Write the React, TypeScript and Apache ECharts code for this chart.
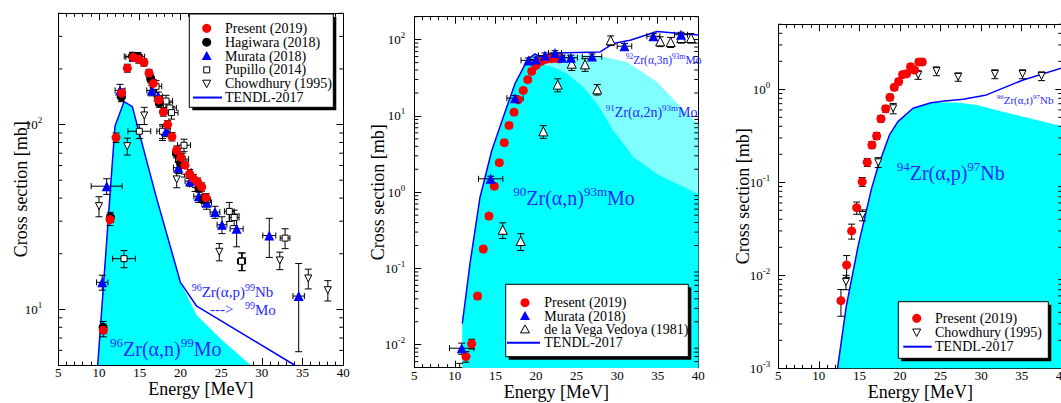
import React, { useEffect, useRef } from 'react';
import * as echarts from 'echarts';

const FONT = 'Liberation Serif';
const BLUE = '#0000ff';
const TEXT_BLUE = '#2828ff';
const CYAN = '#00ffff';
const LIGHT_CYAN = '#80ffff';
const RED = '#ff0000';

// Energy axis
const energyMin = 5;
const energyMax = 40;
const energyStep = 5;

// ---------- Panel 1 : 96Zr -> 99Mo ; points [E MeV, sigma mb, dE, dSigma]
const p1Present = [
  [10.53, 7.7, 0, 0.6], [11.35, 30.6, 0, 2.2], [12.09, 85, 0, 5], [12.78, 148, 0, 8],
  [13.48, 202, 0, 10], [14.21, 231, 0, 11], [14.87, 226, 0, 11], [15.52, 217, 0, 10],
  [16.14, 190, 0, 9], [16.67, 167, 0, 8], [17.33, 136, 0, 7], [17.9, 117, 0, 6],
  [18.43, 100, 0, 5], [18.96, 86, 0, 4.5], [19.54, 72.6, 0, 4], [20.07, 66.4, 0, 3.5],
  [20.56, 60.3, 0, 3.2], [21.13, 54.1, 0, 3], [21.58, 51, 0, 2.7], [22.12, 48.8, 0, 2.6],
  [22.61, 46, 0, 2.4], [23.14, 40.2, 0, 2.1],
];
const p1Hagiwara = [
  [10.5, 8.0, 0.25, 0.6], [11.4, 31.5, 0.25, 2], [12.75, 141, 0.3, 8], [14.1, 234, 1.0, 12],
  [14.8, 233, 0.8, 12], [16.35, 177, 0.4, 9], [17.4, 131, 0.4, 7], [19.5, 70, 0.4, 4],
  [20.0, 62, 0.4, 3.5], [22.3, 45.5, 0.4, 2.5], [22.9, 39.6, 0.4, 2.2],
];
const p1Murata = [
  [10.4, 14.0, 0.7, 1.3], [10.94, 46.4, 1.9, 4.5], [12.58, 153, 0.6, 12], [14.3, 232, 1.0, 12],
  [16.47, 153, 0.6, 10], [17.28, 142, 0.5, 8], [18.23, 92, 0.5, 6], [19.74, 58.4, 0.6, 4],
  [21.17, 49.4, 0.6, 3], [22.24, 40.9, 0.6, 3], [23.22, 37.8, 0.6, 3], [24.24, 33.6, 0.6, 2.5],
  [25.1, 28.7, 0.6, 3], [26.9, 27.3, 0.8, 5.5], [30.91, 25.1, 0.8, 6], [34.52, 11.8, 0.7, 5.9],
];
const p1Pupillo = [
  [13.07, 18.8, 1.4, 2], [14.95, 92, 1.4, 8], [17.0, 161, 0.7, 12], [17.8, 92, 0.7, 8],
  [18.23, 134, 0.8, 10], [18.7, 123, 0.8, 9], [18.9, 116, 0.8, 9], [20.2, 65, 0.8, 5],
  [20.44, 77.3, 0.8, 6], [20.5, 56, 0.8, 4], [21.8, 47.4, 0.7, 4], [23.0, 39, 0.7, 3],
  [26.0, 33.9, 0.6, 4], [26.6, 31.4, 0.6, 3], [27.5, 18.2, 0.5, 2], [32.85, 24.3, 0.6, 3],
];
const p1Chowdhury = [
  [10.0, 36.2, 0, 4.5], [13.47, 76.4, 0, 8], [15.56, 112, 0, 12], [17.8, 90, 0, 8],
  [19.54, 50.5, 0, 5], [24.77, 20.5, 0, 2.2], [27.6, 18.2, 0, 2], [32.2, 18.4, 0, 2],
  [35.7, 14.7, 0, 1.8], [38.1, 12.7, 0, 1.6],
];
// TENDL-2017 total (α,n)+(α,p)->99Mo and (α,n) only
const p1Tendl = [
  [9.6, 2.5], [9.84, 5], [11.96, 98], [13.07, 133], [14.09, 125], [17, 41], [20, 14],
  [22, 10.4], [34, 5], [36, 4.3],
];
const p1FillAN = [
  [9.6, 2.5], [9.84, 5], [11.96, 98], [13.07, 133], [14.09, 125], [17, 41], [20, 14],
  [22, 9.3], [25, 6.9], [28.6, 5], [30, 4.4],
];

// ---------- Panel 2 : natZr -> 93mMo
const p2Present = [
  [11.37, 0.007, 0, 0.0011], [12.07, 0.0103, 0, 0.0015], [12.8, 0.0434, 0, 0.004],
  [13.5, 0.18, 0, 0.015], [14.2, 0.486, 0, 0.04], [14.86, 1.2, 0, 0.1], [15.48, 2.44, 0, 0.2],
  [16.09, 4.46, 0, 0.35], [16.67, 7.5, 0, 0.6], [17.29, 11.2, 0, 0.9], [17.82, 16.3, 0, 1.2],
  [18.43, 21.6, 0, 1.6], [18.98, 29.9, 0, 2.2], [19.47, 38.4, 0, 2.8], [20.0, 46, 0, 3.3],
  [20.62, 51.9, 0, 3.7], [21.2, 55.2, 0, 4], [21.85, 56.3, 0, 4], [22.3, 57, 0, 4],
  [22.9, 56, 0, 4],
];
const p2Murata = [
  [10.84, 0.009, 1.5, 0.0015], [14.41, 1.5, 1.5, 0.12], [17.41, 17.1, 1.0, 1.4],
  [19.05, 53.5, 0.9, 4], [20.0, 55, 0.8, 4], [21.1, 62, 0.8, 5], [22.34, 66.7, 0.8, 5],
  [23.2, 58, 0.8, 4.5], [24.3, 58, 0.8, 4.5], [26.9, 60, 1.2, 5], [30.9, 82, 0.9, 7],
  [34.46, 111, 0.8, 9], [37.87, 116, 0.8, 9],
];
const p2Vega = [
  [10.6, 0.0045, 0, 0.0012], [15.9, 0.322, 0, 0.075], [18.11, 0.229, 0, 0.057],
  [20.9, 6.27, 0, 1.2], [22.67, 25.7, 0, 5], [24.4, 48.4, 0, 9], [26.04, 47.4, 0, 9],
  [27.55, 22.3, 0, 3.5], [29.2, 98, 0, 14], [35.3, 95, 0, 14], [36.6, 93, 0, 14],
  [37.9, 105, 0, 15], [39.1, 105, 0, 15],
];
const p2Tendl = [
  [10.92, 0.019], [11.86, 0.115], [13.1, 0.86], [14.54, 3.5], [15.97, 9.7], [17.41, 26.5],
  [18.98, 55], [19.88, 65], [20.5, 60], [22.34, 67], [27.9, 69], [29.5, 89], [31.6, 98],
  [34.9, 128], [40, 115],
];
// 90Zr(α,n) + 91Zr(α,2n) boundary
const p2FillAN2N = [
  [10.92, 0.019], [11.86, 0.115], [13.1, 0.86], [14.54, 3.5], [15.97, 9.7], [17.41, 26.5],
  [18.98, 55], [19.88, 64], [20.5, 59], [22.34, 65], [24, 64], [26, 63], [27.9, 61],
  [31.2, 51], [34.9, 28], [37.3, 15], [40, 7.7],
];
// 90Zr(α,n) boundary
const p2FillAN = [
  [10.92, 0.019], [11.86, 0.115], [13.1, 0.86], [14.54, 3.5], [15.97, 9.7], [17.41, 26.5],
  [18.98, 54], [19.6, 52], [20.5, 48], [22, 44], [23.8, 36], [25.8, 24], [27.5, 14.5],
  [29.5, 6.5], [32, 2.9], [35, 1.7], [40, 0.95],
];

// ---------- Panel 3 : 94Zr(α,p)97Nb
const p3Present = [
  [12.72, 0.00533, 0, 0.0017], [13.42, 0.0129, 0, 0.0034], [14.04, 0.03, 0, 0.0055],
  [14.66, 0.0533, 0, 0.008], [15.34, 0.1015, 0, 0.011], [15.96, 0.164, 0, 0.016],
  [16.54, 0.252, 0, 0.022], [17.12, 0.315, 0, 0.027], [17.65, 0.483, 0, 0.04],
  [18.23, 0.618, 0, 0.05], [18.76, 0.82, 0, 0.065], [19.29, 1.05, 0, 0.08],
  [19.83, 1.21, 0, 0.09], [20.32, 1.44, 0, 0.1], [20.81, 1.47, 0, 0.1], [21.3, 1.75, 0, 0.12],
  [21.8, 1.61, 0, 0.11], [22.33, 1.97, 0, 0.14], [22.74, 1.97, 0, 0.14],
];
const p3Chowdhury = [
  [13.34, 0.0085, 0, 0.0015], [15.39, 0.0445, 0, 0.006], [17.32, 0.164, 0, 0.02],
  [19.16, 0.625, 0, 0.08], [22.24, 1.43, 0, 0.15], [24.5, 1.57, 0, 0.17], [27.17, 1.36, 0, 0.14],
  [31.69, 1.46, 0, 0.16], [35.1, 1.46, 0, 0.16], [37.44, 1.39, 0, 0.15],
];
const p3Tendl = [
  [12.1, 0.0007], [12.3, 0.001], [13.37, 0.0046], [14.82, 0.0203], [16.45, 0.083],
  [17.28, 0.147], [18.7, 0.323], [19.74, 0.449], [21.6, 0.625], [23.84, 0.718], [25.5, 0.75],
  [27.8, 0.78], [30.66, 0.87], [35.17, 1.26], [40, 1.7],
];
const p3FillAP = [
  [12.1, 0.0007], [12.3, 0.001], [13.37, 0.0046], [14.82, 0.0203], [16.45, 0.083],
  [17.28, 0.147], [18.7, 0.323], [19.74, 0.449], [21.6, 0.625], [23.84, 0.718], [25, 0.72],
  [27, 0.72], [29.5, 0.68], [33.5, 0.55], [40, 0.4],
];

// y-axis ranges and minor tick positions (log axes)
const yRange1 = [5, 400];
const yRange2 = [0.005, 200];
const yRange3 = [0.001, 5];
const yMinor1 = [6, 7, 8, 9, 20, 30, 40, 50, 60, 70, 80, 90, 200, 300, 400];
const yMinor2 = [
  0.006, 0.007, 0.008, 0.009, 0.02, 0.03, 0.04, 0.05, 0.06, 0.07, 0.08, 0.09,
  0.2, 0.3, 0.4, 0.5, 0.6, 0.7, 0.8, 0.9, 2, 3, 4, 5, 6, 7, 8, 9,
  20, 30, 40, 50, 60, 70, 80, 90, 200,
];
const yMinor3 = [
  0.002, 0.003, 0.004, 0.005, 0.006, 0.007, 0.008, 0.009, 0.02, 0.03, 0.04, 0.05, 0.06,
  0.07, 0.08, 0.09, 0.2, 0.3, 0.4, 0.5, 0.6, 0.7, 0.8, 0.9, 2, 3, 4, 5,
];

const grids = [
  { left: 58.3, top: 13.3, width: 285, height: 351.7 },
  { left: 414.3, top: 16.7, width: 284, height: 351 },
  { left: 778.3, top: 24.3, width: 284, height: 344 },
];

function logLabel(v: number) {
  const l = Math.log10(v);
  const e = Math.round(l);
  if (Math.abs(l - e) > 1e-6) return '';
  return '10{s|' + e + '}';
}

function makeXAxes(gi: number) {
  const base: any = {
    type: 'value', gridIndex: gi, min: energyMin, max: energyMax, interval: energyStep,
    splitLine: { show: false },
    axisLine: { show: true, onZero: false, lineStyle: { color: '#000', width: 1 } },
    axisTick: { show: true, inside: true, length: 7, lineStyle: { color: '#000', width: 1 } },
    minorTick: { show: true, splitNumber: 5, length: 3.5, lineStyle: { color: '#000', width: 1 } },
  };
  return [
    {
      ...base, position: 'bottom',
      axisLabel: { show: true, margin: 1, fontFamily: FONT, fontSize: 13, fontWeight: 'normal', color: '#000' },
      name: 'Energy [MeV]', nameLocation: 'middle', nameGap: 15, nameMoveOverlap: false,
      nameTextStyle: { fontFamily: FONT, fontSize: 18, fontWeight: 'normal', color: '#000' },
    },
    { ...base, position: 'top', axisLabel: { show: false } },
  ];
}

function makeYAxes(gi: number, range: number[], margin: number, gap: number) {
  const base: any = {
    type: 'log', logBase: 10, gridIndex: gi, min: range[0], max: range[1],
    splitLine: { show: false },
    axisLine: { show: true, onZero: false, lineStyle: { color: '#000', width: 1 } },
    axisTick: { show: true, inside: true, length: 7, lineStyle: { color: '#000', width: 1 } },
  };
  return [
    {
      ...base, position: 'left',
      axisLabel: {
        show: true, margin, fontFamily: FONT, fontSize: 13, fontWeight: 'normal', color: '#000', lineHeight: 18,
        formatter: logLabel,
        rich: { s: { fontFamily: FONT, fontSize: 9, color: '#000', verticalAlign: 'top', lineHeight: 9 } },
      },
      name: 'Cross section [mb]', nameLocation: 'middle', nameGap: gap, nameMoveOverlap: false,
      nameTextStyle: { fontFamily: FONT, fontSize: 18, fontWeight: 'normal', color: '#000' },
    },
    { ...base, position: 'right', axisLabel: { show: false } },
  ];
}

function errorBarRender(params: any, api: any) {
  const x = api.value(0), y = api.value(1), dx = api.value(2), dy = api.value(3);
  const st = { stroke: '#000', lineWidth: 1 };
  const kids: any[] = [];
  if (dy > 0) {
    const t = api.coord([x, y + dy]);
    const b = api.coord([x, Math.max(y - dy, y * 0.02)]);
    kids.push({ type: 'line', shape: { x1: t[0], y1: t[1], x2: b[0], y2: b[1] }, style: st });
    kids.push({ type: 'line', shape: { x1: t[0] - 3.5, y1: t[1], x2: t[0] + 3.5, y2: t[1] }, style: st });
    kids.push({ type: 'line', shape: { x1: b[0] - 3.5, y1: b[1], x2: b[0] + 3.5, y2: b[1] }, style: st });
  }
  if (dx > 0) {
    const l = api.coord([x - dx, y]);
    const r = api.coord([x + dx, y]);
    kids.push({ type: 'line', shape: { x1: l[0], y1: l[1], x2: r[0], y2: r[1] }, style: st });
    kids.push({ type: 'line', shape: { x1: l[0], y1: l[1] - 3, x2: l[0], y2: l[1] + 3 }, style: st });
    kids.push({ type: 'line', shape: { x1: r[0], y1: r[1] - 3, x2: r[0], y2: r[1] + 3 }, style: st });
  }
  return { type: 'group', children: kids };
}

function minorTickRender(params: any, api: any) {
  const cs = params.coordSys;
  const p = api.coord([energyMin, api.value(1)]);
  const y = p[1];
  const st = { stroke: '#000', lineWidth: 1 };
  return {
    type: 'group',
    children: [
      { type: 'line', shape: { x1: cs.x, y1: y, x2: cs.x + 4, y2: y }, style: st },
      { type: 'line', shape: { x1: cs.x + cs.width - 4, y1: y, x2: cs.x + cs.width, y2: y }, style: st },
    ],
  };
}

function errSeries(gi: number, data: number[][]) {
  return {
    type: 'custom', xAxisIndex: gi * 2, yAxisIndex: gi * 2, data, renderItem: errorBarRender,
    encode: { x: 0, y: 1 }, clip: true, silent: true, z: 4,
  };
}

function pts(gi: number, name: string, data: number[][], symbol: string, size: number, style: any, rotate = 0, z = 5) {
  return {
    type: 'scatter', name, xAxisIndex: gi * 2, yAxisIndex: gi * 2,
    data: data.map((d) => [d[0], d[1]]), symbol, symbolSize: size, symbolRotate: rotate,
    itemStyle: { opacity: 1, ...style }, clip: true, silent: true, z,
  };
}

function lineSeries(gi: number, name: string, data: number[][]) {
  return {
    type: 'line', name, xAxisIndex: gi * 2, yAxisIndex: gi * 2, data, symbol: 'none',
    showSymbol: false, lineStyle: { color: BLUE, width: 1.5 }, clip: true, silent: true, z: 3,
  };
}

function fillSeries(gi: number, name: string, data: number[][], color: string) {
  return {
    type: 'line', name, xAxisIndex: gi * 2, yAxisIndex: gi * 2, data, symbol: 'none',
    showSymbol: false, lineStyle: { width: 0, opacity: 0 },
    areaStyle: { color, opacity: 1, origin: 1e-6 }, clip: true, silent: true, z: 1,
  };
}

function minorSeries(gi: number, ticks: number[]) {
  return {
    type: 'custom', xAxisIndex: gi * 2, yAxisIndex: gi * 2,
    data: ticks.map((v) => [energyMin, v]), renderItem: minorTickRender,
    encode: { x: 0, y: 1 }, silent: true, z: 6,
  };
}

// ---------- legends (drawn with graphic elements)
const legend1 = [
  ['Present (2019)', 'red'], ['Hagiwara (2018)', 'black'], ['Murata (2018)', 'blueTri'],
  ['Pupillo (2014)', 'openSq'], ['Chowdhury (1995)', 'openTriDown'], ['TENDL-2017', 'line'],
];
const legend2 = [
  ['Present (2019)', 'red'], ['Murata (2018)', 'blueTri'], ['de la Vega Vedoya (1981)', 'openTriUp'],
  ['TENDL-2017', 'line'],
];
const legend3 = [['Present (2019)', 'red'], ['Chowdhury (1995)', 'openTriDown'], ['TENDL-2017', 'line']];

function marker(kind: string, cx: number, cy: number, lx1: number, lx2: number) {
  const z = 102;
  switch (kind) {
    case 'red':
      return { type: 'circle', z, shape: { cx, cy, r: 4.5 }, style: { fill: RED } };
    case 'black':
      return { type: 'circle', z, shape: { cx, cy, r: 4.5 }, style: { fill: '#000' } };
    case 'blueTri':
      return { type: 'polygon', z, shape: { points: [[cx, cy - 5], [cx - 5, cy + 4], [cx + 5, cy + 4]] }, style: { fill: BLUE } };
    case 'openTriUp':
      return { type: 'polygon', z, shape: { points: [[cx, cy - 4.5], [cx - 4.5, cy + 3.5], [cx + 4.5, cy + 3.5]] }, style: { fill: '#fff', stroke: '#000', lineWidth: 1 } };
    case 'openSq':
      return { type: 'rect', z, shape: { x: cx - 3, y: cy - 3, width: 6, height: 6 }, style: { fill: '#fff', stroke: '#000', lineWidth: 1 } };
    case 'openTriDown':
      return { type: 'polygon', z, shape: { points: [[cx - 4, cy - 3.5], [cx + 4, cy - 3.5], [cx, cy + 4]] }, style: { fill: '#fff', stroke: '#000', lineWidth: 1 } };
    default:
      return { type: 'line', z, shape: { x1: lx1, y1: cy, x2: lx2, y2: cy }, style: { stroke: BLUE, lineWidth: 2 } };
  }
}

function makeLegend(box: number[], entries: string[][], mx: number, tx: number, y0: number, dy: number, lx1: number, lx2: number) {
  const [x, y, w, h] = box;
  const els: any[] = [
    { type: 'rect', z: 100, shape: { x: x + 3, y: y + 3, width: w, height: h }, style: { fill: '#000' } },
    { type: 'rect', z: 101, shape: { x, y, width: w, height: h }, style: { fill: '#fff', stroke: '#000', lineWidth: 1 } },
  ];
  entries.forEach(([label, kind], i) => {
    const cy = y0 + i * dy;
    els.push(marker(kind, mx, cy, lx1, lx2));
    els.push({
      type: 'text', z: 102, x: tx, y: cy,
      style: { text: label, fontFamily: FONT, fontSize: 14, fill: '#000', align: 'left', verticalAlign: 'middle' },
    });
  });
  return els;
}

function note(text: string, x: number, y: number, size: number, sup: number) {
  return {
    type: 'text', z: 90, x, y,
    style: {
      text, fontFamily: FONT, fontSize: size, fill: TEXT_BLUE, lineHeight: Math.round(size * 1.3),
      align: 'left', verticalAlign: 'middle',
      rich: { s: { fontFamily: FONT, fontSize: sup, fill: TEXT_BLUE, verticalAlign: 'top', lineHeight: sup } },
    },
  };
}

function buildOption() {
  const series: any[] = [
    // panel 1
    fillSeries(0, '96Zr(α,n)99Mo', p1FillAN, CYAN),
    lineSeries(0, 'TENDL-2017', p1Tendl),
    errSeries(0, p1Chowdhury), errSeries(0, p1Pupillo), errSeries(0, p1Murata),
    errSeries(0, p1Hagiwara), errSeries(0, p1Present),
    pts(0, 'Chowdhury (1995)', p1Chowdhury, 'triangle', 7, { color: '#fff', borderColor: '#000', borderWidth: 1 }, 180),
    pts(0, 'Pupillo (2014)', p1Pupillo, 'rect', 6, { color: '#fff', borderColor: '#000', borderWidth: 1 }),
    pts(0, 'Murata (2018)', p1Murata, 'triangle', 10, { color: BLUE }),
    pts(0, 'Hagiwara (2018)', p1Hagiwara, 'circle', 9, { color: '#000' }),
    pts(0, 'Present (2019)', p1Present, 'circle', 9, { color: RED }, 0, 6),
    minorSeries(0, yMinor1),
    // panel 2
    fillSeries(1, '91Zr(α,2n)93mMo', p2FillAN2N, LIGHT_CYAN),
    fillSeries(1, '90Zr(α,n)93mMo', p2FillAN, CYAN),
    lineSeries(1, 'TENDL-2017', p2Tendl),
    errSeries(1, p2Vega), errSeries(1, p2Murata), errSeries(1, p2Present),
    pts(1, 'de la Vega Vedoya (1981)', p2Vega, 'triangle', 9, { color: '#fff', borderColor: '#000', borderWidth: 1 }),
    pts(1, 'Present (2019)', p2Present, 'circle', 9, { color: RED }),
    pts(1, 'Murata (2018)', p2Murata, 'triangle', 10, { color: BLUE }, 0, 6),
    minorSeries(1, yMinor2),
    // panel 3
    fillSeries(2, '94Zr(α,p)97Nb', p3FillAP, CYAN),
    lineSeries(2, 'TENDL-2017', p3Tendl),
    errSeries(2, p3Chowdhury), errSeries(2, p3Present),
    pts(2, 'Chowdhury (1995)', p3Chowdhury, 'triangle', 7, { color: '#fff', borderColor: '#000', borderWidth: 1 }, 180),
    pts(2, 'Present (2019)', p3Present, 'circle', 9, { color: RED }),
    minorSeries(2, yMinor3),
  ];

  const graphic: any[] = [
    ...makeLegend([189.3, 14, 144, 93.3], legend1, 206.7, 225, 28.3, 13.85, 193, 222),
    ...makeLegend([505.7, 284.3, 182.6, 72.4], legend2, 525, 544.3, 302.7, 13.35, 507, 540),
    ...makeLegend([898.3, 301.7, 150, 56.6], legend3, 916.7, 935, 318.3, 14.2, 903.3, 931.7),
    note('{s|96}Zr(α,n){s|99}Mo', 110, 349, 20, 13),
    note('{s|96}Zr(α,p){s|99}Nb', 191.7, 292, 15, 10),
    note('--->', 210, 309, 15, 10),
    note('{s|99}Mo', 245, 310, 15, 10),
    note('{s|90}Zr(α,n){s|93m}Mo', 513.3, 198, 20, 13),
    note('{s|91}Zr(α,2n){s|93m}Mo', 605.7, 112, 14, 9),
    note('{s|92}Zr(α,3n){s|93m}Mo', 625.7, 60, 11.5, 7.5),
    note('{s|94}Zr(α,p){s|97}Nb', 896.7, 173, 20, 13),
    note('{s|96}Zr(α,t){s|97}Nb', 996.7, 100, 11, 7),
  ];

  return {
    animation: false,
    backgroundColor: '#fff',
    grid: grids.map((g) => ({ ...g, containLabel: false, outerBoundsMode: 'none', show: false })),
    xAxis: [...makeXAxes(0), ...makeXAxes(1), ...makeXAxes(2)],
    yAxis: [
      ...makeYAxes(0, yRange1, 16, 28),
      ...makeYAxes(1, yRange2, 9, 27.5),
      ...makeYAxes(2, yRange3, 8, 26.5),
    ],
    series,
    graphic,
  };
}

export default function App() {
  const ref = useRef<HTMLDivElement>(null);
  useEffect(() => {
    if (!ref.current) return;
    const chart = echarts.init(ref.current, null, { renderer: 'svg' });
    chart.setOption(buildOption() as any);
    return () => chart.dispose();
  }, []);
  return (
    <div
      ref={ref}
      style={{ position: 'fixed', left: 0, top: 0, width: 1061, height: 403, background: '#fff' }}
    />
  );
}
